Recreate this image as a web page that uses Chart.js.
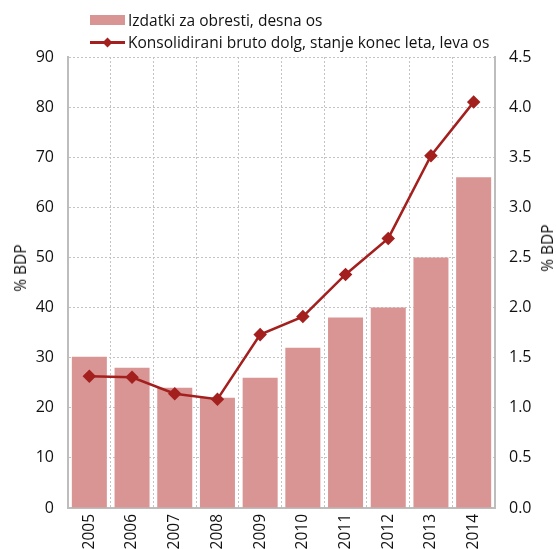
<!DOCTYPE html>
<html>
<head>
<meta charset="utf-8">
<script src="https://cdn.jsdelivr.net/npm/chart.js@4"></script>
<style>
  html, body { margin: 0; padding: 0; background: #fff; }
  #wrap { position: relative; width: 556px; height: 549px; }
  #legend { position: absolute; left: 90px; top: 9px; font-family: "Open Sans", sans-serif; font-size: 15.5px; color: #111; }
  .item { display: flex; align-items: center; height: 22px; }
  .swatch { width: 35px; height: 10px; background: #d99594; margin-right: 3px; }
  .lineKey { position: relative; width: 35px; height: 10px; margin-right: 3px; }
  .lineKey .ln { position: absolute; left: 0; right: 0; top: 4px; height: 3px; background: #a3201f; }
  .lineKey .dm { position: absolute; left: 14px; top: 2px; width: 7px; height: 7px; background: #a3201f; transform: rotate(45deg); }
  .axTitle { position: absolute; font-family: "Open Sans", sans-serif; font-size: 15.5px; color: #111; white-space: nowrap;
             transform: translate(-50%, -50%) rotate(-90deg); }
</style>
</head>
<body>
<div id="wrap">
  <canvas id="myChart" width="556" height="549"></canvas>
  <div id="legend">
    <div class="item"><span class="swatch"></span><span>Izdatki za obresti, desna os</span></div>
    <div class="item"><span class="lineKey"><span class="ln"></span><span class="dm"></span></span><span>Konsolidirani bruto dolg, stanje konec leta, leva os</span></div>
  </div>
  <div class="axTitle" style="left:20px; top:268px;">% BDP</div>
  <div class="axTitle" style="left:547px; top:248px;">% BDP</div>
</div>
<script>
"use strict";
const years = ['2005', '2006', '2007', '2008', '2009', '2010', '2011', '2012', '2013', '2014'];
const interestExpenditure = [1.51, 1.40, 1.20, 1.10, 1.30, 1.60, 1.90, 2.00, 2.50, 3.30];
const grossDebt = [26.3, 26.1, 22.8, 21.7, 34.6, 38.2, 46.6, 53.8, 70.3, 81.0];
const barLabel = 'Izdatki za obresti, desna os';
const lineLabel = 'Konsolidirani bruto dolg, stanje konec leta, leva os';

const FONT = '"Open Sans", sans-serif';
const gridGray = '#c4c4c4';
const axisGray = '#bdbdbd';

const ctx = document.getElementById('myChart');
new Chart(ctx, {
    type: 'bar',
    data: {
        labels: years,
        datasets: [{
            type: 'line',
            label: lineLabel,
            data: grossDebt,
            yAxisID: 'y',
            borderColor: '#a3201f',
            backgroundColor: '#a3201f',
            borderWidth: 2.5,
            pointStyle: 'rectRot',
            pointRadius: 5,
            tension: 0,
            order: 0
        }, {
            type: 'bar',
            label: barLabel,
            data: interestExpenditure,
            yAxisID: 'y1',
            backgroundColor: '#d99594',
            barPercentage: 0.82,
            categoryPercentage: 1.0,
            order: 1
        }]
    },
    options: {
        responsive: false,
        animation: false,
        layout: { padding: { top: 57, right: 0, left: 0, bottom: 0 } },
        plugins: { legend: { display: false }, tooltip: { enabled: false } },
        scales: {
            x: {
                offset: true,
                grid: { display: true, offset: true, color: gridGray, drawTicks: false },
                border: { display: true, color: axisGray, width: 2, dash: [2, 2] },
                ticks: { color: '#111', font: { family: FONT, size: 15.5 }, minRotation: 90, maxRotation: 90, padding: 6 },
                afterFit: function (axis) { axis.height = 41; }
            },
            y: {
                position: 'left',
                min: 0, max: 90,
                ticks: { stepSize: 10, color: '#111', font: { family: FONT, size: 16 }, padding: 14 },
                grid: { color: gridGray, drawTicks: false },
                border: { display: true, color: axisGray, width: 2, dash: [2, 2] },
                afterFit: function (axis) { axis.width = 68; }
            },
            y1: {
                position: 'right',
                min: 0, max: 4.5,
                ticks: { stepSize: 0.5, color: '#111', font: { family: FONT, size: 16 }, padding: 14,
                    callback: v => Number(v).toFixed(1) },
                grid: { drawOnChartArea: false, drawTicks: false },
                border: { display: true, color: axisGray, width: 2 },
                afterFit: function (axis) { axis.width = 61; }
            }
        }
    }
});
</script>
</body>
</html>
